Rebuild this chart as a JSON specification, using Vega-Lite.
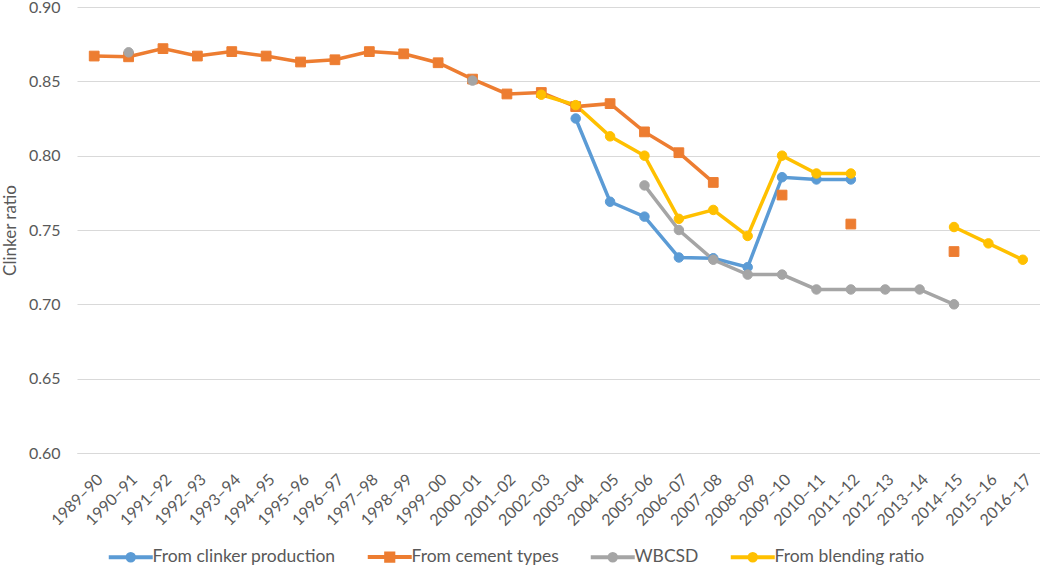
{
  "$schema": "https://vega.github.io/schema/vega-lite/v6.json",
  "width": 963,
  "height": 446,
  "autosize": {"type": "none"},
  "padding": {"left": 77, "top": 7, "right": 0, "bottom": 113},
  "config": {
    "font": "Lato",
    "view": {"stroke": null},
    "axis": {"labelColor": "#595959", "titleColor": "#595959", "labelFontSize": 16, "titleFontSize": 17, "titleFontWeight": "normal"}
  },
  "data": {
    "values": [
      {"period": "2003–04", "series": "From clinker production", "value": 0.825},
      {"period": "2004–05", "series": "From clinker production", "value": 0.769},
      {"period": "2005–06", "series": "From clinker production", "value": 0.759},
      {"period": "2006–07", "series": "From clinker production", "value": 0.7315},
      {"period": "2007–08", "series": "From clinker production", "value": 0.731},
      {"period": "2008–09", "series": "From clinker production", "value": 0.725},
      {"period": "2009–10", "series": "From clinker production", "value": 0.7855},
      {"period": "2010–11", "series": "From clinker production", "value": 0.784},
      {"period": "2011–12", "series": "From clinker production", "value": 0.784},
      {"period": "1989–90", "series": "From cement types", "value": 0.867},
      {"period": "1990–91", "series": "From cement types", "value": 0.8665},
      {"period": "1991–92", "series": "From cement types", "value": 0.872},
      {"period": "1992–93", "series": "From cement types", "value": 0.867},
      {"period": "1993–94", "series": "From cement types", "value": 0.870},
      {"period": "1994–95", "series": "From cement types", "value": 0.867},
      {"period": "1995–96", "series": "From cement types", "value": 0.863},
      {"period": "1996–97", "series": "From cement types", "value": 0.8645},
      {"period": "1997–98", "series": "From cement types", "value": 0.870},
      {"period": "1998–99", "series": "From cement types", "value": 0.8685},
      {"period": "1999–00", "series": "From cement types", "value": 0.8625},
      {"period": "2000–01", "series": "From cement types", "value": 0.8515},
      {"period": "2001–02", "series": "From cement types", "value": 0.8415},
      {"period": "2002–03", "series": "From cement types", "value": 0.8425},
      {"period": "2003–04", "series": "From cement types", "value": 0.833},
      {"period": "2004–05", "series": "From cement types", "value": 0.835},
      {"period": "2005–06", "series": "From cement types", "value": 0.816},
      {"period": "2006–07", "series": "From cement types", "value": 0.802},
      {"period": "2007–08", "series": "From cement types", "value": 0.782},
      {"period": "2008–09", "series": "From cement types", "value": null},
      {"period": "2009–10", "series": "From cement types", "value": 0.7735},
      {"period": "2010–11", "series": "From cement types", "value": null},
      {"period": "2011–12", "series": "From cement types", "value": 0.754},
      {"period": "2012–13", "series": "From cement types", "value": null},
      {"period": "2013–14", "series": "From cement types", "value": null},
      {"period": "2014–15", "series": "From cement types", "value": 0.7355},
      {"period": "1990–91", "series": "WBCSD", "value": 0.8695},
      {"period": "1991–92", "series": "WBCSD", "value": null},
      {"period": "1999–00", "series": "WBCSD", "value": null},
      {"period": "2000–01", "series": "WBCSD", "value": 0.8505},
      {"period": "2001–02", "series": "WBCSD", "value": null},
      {"period": "2004–05", "series": "WBCSD", "value": null},
      {"period": "2005–06", "series": "WBCSD", "value": 0.780},
      {"period": "2006–07", "series": "WBCSD", "value": 0.750},
      {"period": "2007–08", "series": "WBCSD", "value": 0.730},
      {"period": "2008–09", "series": "WBCSD", "value": 0.720},
      {"period": "2009–10", "series": "WBCSD", "value": 0.720},
      {"period": "2010–11", "series": "WBCSD", "value": 0.710},
      {"period": "2011–12", "series": "WBCSD", "value": 0.710},
      {"period": "2012–13", "series": "WBCSD", "value": 0.710},
      {"period": "2013–14", "series": "WBCSD", "value": 0.710},
      {"period": "2014–15", "series": "WBCSD", "value": 0.700},
      {"period": "2002–03", "series": "From blending ratio", "value": 0.841},
      {"period": "2003–04", "series": "From blending ratio", "value": 0.834},
      {"period": "2004–05", "series": "From blending ratio", "value": 0.813},
      {"period": "2005–06", "series": "From blending ratio", "value": 0.800},
      {"period": "2006–07", "series": "From blending ratio", "value": 0.7575},
      {"period": "2007–08", "series": "From blending ratio", "value": 0.7635},
      {"period": "2008–09", "series": "From blending ratio", "value": 0.746},
      {"period": "2009–10", "series": "From blending ratio", "value": 0.800},
      {"period": "2010–11", "series": "From blending ratio", "value": 0.788},
      {"period": "2011–12", "series": "From blending ratio", "value": 0.788},
      {"period": "2012–13", "series": "From blending ratio", "value": null},
      {"period": "2013–14", "series": "From blending ratio", "value": null},
      {"period": "2014–15", "series": "From blending ratio", "value": 0.752},
      {"period": "2015–16", "series": "From blending ratio", "value": 0.741},
      {"period": "2016–17", "series": "From blending ratio", "value": 0.730}
    ]
  },
  "encoding": {
    "x": {
      "field": "period",
      "type": "ordinal",
      "scale": {"type": "point", "padding": 0.5, "domain": ["1989–90","1990–91","1991–92","1992–93","1993–94","1994–95","1995–96","1996–97","1997–98","1998–99","1999–00","2000–01","2001–02","2002–03","2003–04","2004–05","2005–06","2006–07","2007–08","2008–09","2009–10","2010–11","2011–12","2012–13","2013–14","2014–15","2015–16","2016–17"]},
      "sort": null,
      "axis": {"title": null, "labelAngle": -45, "labelPadding": 18, "ticks": false, "tickSize": 0, "domain": true, "domainColor": "#d9d9d9", "domainWidth": 1, "grid": false, "labelFontSize": 16}
    },
    "y": {
      "field": "value",
      "type": "quantitative",
      "scale": {"domain": [0.6, 0.9], "zero": false, "nice": false},
      "axis": {"title": "Clinker ratio", "format": ".2f", "values": [0.6, 0.65, 0.7, 0.75, 0.8, 0.85, 0.9], "grid": true, "gridColor": "#d9d9d9", "gridWidth": 1, "domain": false, "ticks": false, "tickSize": 0, "labelPadding": 17, "titlePadding": 9}
    },
    "color": {
      "field": "series",
      "type": "nominal",
      "scale": {"domain": ["From clinker production", "From cement types", "WBCSD", "From blending ratio"], "range": ["#5b9bd5", "#ed7d31", "#a5a5a5", "#ffc000"]},
      "legend": {
        "title": null,
        "orient": "none",
        "legendX": 45,
        "legendY": 541,
        "direction": "horizontal",
        "labelFontSize": 17.5,
        "labelColor": "#595959",
        "labelLimit": 400,
        "symbolSize": 121,
        "symbolStrokeWidth": 4,
        "symbolType": {"expr": "datum.value === 'From cement types' ? 'M-4,0L4,0M-0.65,-0.65L0.65,-0.65L0.65,0.65L-0.65,0.65Z' : 'M-4,0L4,0M-0.6,0A0.6,0.6,0,1,0,0.6,0A0.6,0.6,0,1,0,-0.6,0Z'"},
        "columnPadding": 23,
        "labelOffset": 13
      }
    },
    "stroke": {
      "field": "series",
      "type": "nominal",
      "scale": {"domain": ["From clinker production", "From cement types", "WBCSD", "From blending ratio"], "range": ["#5b9bd5", "#ed7d31", "#a5a5a5", "#ffc000"]}
    }
  },
  "layer": [
    {
      "mark": {"type": "line", "strokeWidth": 3.5, "invalid": "break-paths-show-domains"}
    },
    {
      "transform": [{"filter": "datum.series === 'From cement types'"}],
      "mark": {"type": "point", "shape": "square", "filled": true, "opacity": 1, "strokeWidth": 1, "size": 95}
    },
    {
      "transform": [{"filter": "datum.series !== 'From cement types'"}],
      "mark": {"type": "point", "shape": "circle", "filled": true, "opacity": 1, "strokeWidth": 1, "size": 90}
    }
  ]
}
